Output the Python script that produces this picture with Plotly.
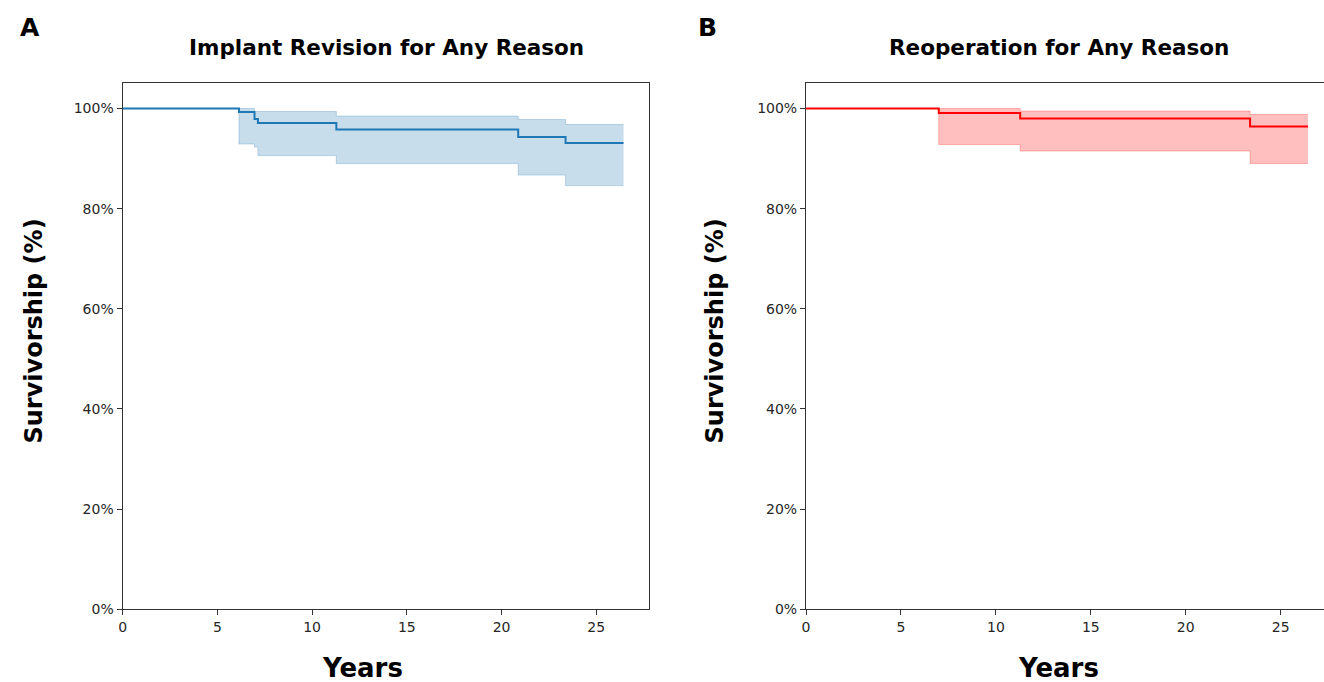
import plotly.graph_objects as go

# Panel A: Implant revision for any reason
A_time = [0, 6.14, 6.96, 7.14, 11.28, 20.88, 23.38, 26.44]
A_surv = [100, 99.3, 97.9, 97.1, 95.8, 94.3, 93.1, 93.1]
A_upper = [100, 100, 99.4, 99.4, 98.5, 97.8, 96.8, 96.8]
A_lower = [100, 92.9, 92.3, 90.6, 89.0, 86.7, 84.6, 84.6]

# Panel B: Reoperation for any reason
B_time = [0, 6.99, 11.28, 23.39, 26.44]
B_surv = [100, 99.1, 98.0, 96.4, 96.4]
B_upper = [100, 100, 99.5, 98.8, 98.8]
B_lower = [100, 92.8, 91.5, 89.0, 89.0]

y_ticks = [0, 20, 40, 60, 80, 100]
y_ticktext = ["0%", "20%", "40%", "60%", "80%", "100%"]
x_ticks = [0, 5, 10, 15, 20, 25]

W, H = 1324, 692
S = 0.9865  # observed vertical capture factor


def py(p):
    """target pixel row -> paper fraction"""
    return 1 - (p / S) / H


fig = go.Figure()

def add_km(t, s, lo, hi, line_col, band_col, xa, ya):
    fig.add_trace(go.Scatter(x=t, y=lo, mode="lines", line=dict(shape="hv", color=band_col, width=1),
                             xaxis=xa, yaxis=ya, showlegend=False, hoverinfo="skip"))
    fig.add_trace(go.Scatter(x=t, y=hi, mode="lines", line=dict(shape="hv", color=band_col, width=1),
                             fill="tonexty", fillcolor=band_col,
                             xaxis=xa, yaxis=ya, showlegend=False, hoverinfo="skip"))
    fig.add_trace(go.Scatter(x=t, y=s, mode="lines", line=dict(shape="hv", color=line_col, width=2),
                             xaxis=xa, yaxis=ya, showlegend=False))

add_km(A_time, A_surv, A_lower, A_upper, "#1f77b4", "rgba(31,119,180,0.25)", "x", "y")
add_km(B_time, B_surv, B_lower, B_upper, "#ff0000", "rgba(255,0,0,0.25)", "x2", "y2")

ydom = [py(608), py(83.3)]
tickfont = dict(family="DejaVu Sans", size=14, color="#262626")
common_x = dict(tickvals=x_ticks, ticks="outside", ticklen=5, tickcolor="#333", showline=True,
                linecolor="#333", linewidth=1.2, showgrid=False, zeroline=False, tickfont=tickfont)
common_y = dict(tickvals=y_ticks, ticktext=y_ticktext, range=[0, 105], ticks="outside", ticklen=5,
                tickcolor="#333", showline=True, linecolor="#333", linewidth=1.2, showgrid=False,
                zeroline=False, tickfont=tickfont)

fig.update_layout(
    width=W, height=H, margin=dict(l=0, r=0, t=0, b=0),
    paper_bgcolor="white", plot_bgcolor="white",
    xaxis=dict(domain=[119 / W, 646.5 / W], range=[0, 27.76], mirror=True, anchor="y", **common_x),
    yaxis=dict(domain=ydom, mirror=True, anchor="x", **common_y),
    xaxis2=dict(domain=[804.5 / W, 1.0], range=[0, (1324 - 804.5) / 19.04], mirror=True, anchor="y2", **common_x),
    yaxis2=dict(domain=ydom, mirror=False, anchor="x2", **common_y),
)

bold = dict(family="DejaVu Sans", color="black")
ann = [
    dict(text="<b>A</b>", x=26 / W, y=py(27), size=25),
    dict(text="<b>B</b>", x=706 / W, y=py(27), size=25),
    dict(text="<b>Implant Revision for Any Reason</b>", x=384 / W, y=py(47), size=21.5),
    dict(text="<b>Reoperation for Any Reason</b>", x=1058 / W, y=py(47), size=21.5),
    dict(text="<b>Years</b>", x=360 / W, y=py(667), size=26),
    dict(text="<b>Years</b>", x=1058 / W, y=py(667), size=26),
]
for a in ann:
    fig.add_annotation(text=a["text"], x=a["x"], y=a["y"], xref="paper", yref="paper",
                       showarrow=False, xanchor="center", yanchor="middle",
                       font=dict(size=a["size"], **bold))
for xp in [30, 713]:
    fig.add_annotation(text="<b>Survivorship (%)</b>", x=xp / W, y=py(330), xref="paper", yref="paper",
                       showarrow=False, textangle=-90, xanchor="center", yanchor="middle",
                       font=dict(size=24, **bold))

post = "document.body.style.margin='0';document.body.style.overflow='hidden';"
fig.write_html("out.html", config={"displayModeBar": False}, post_script=post)
